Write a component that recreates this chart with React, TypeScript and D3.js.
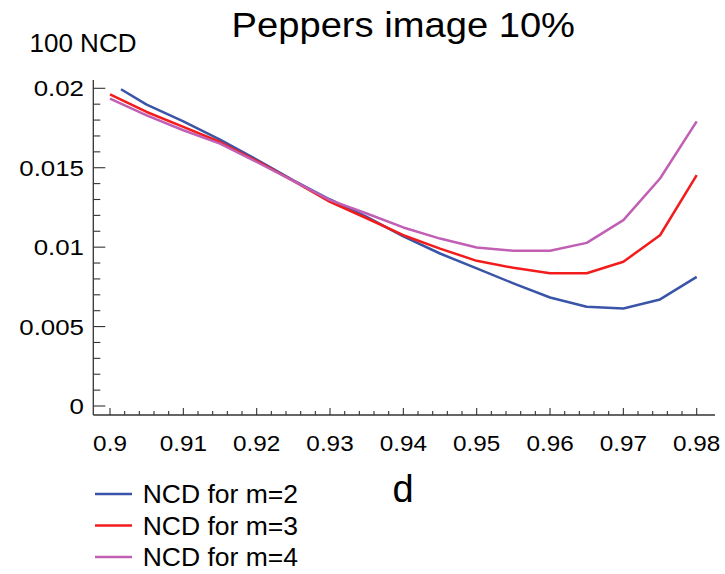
import React from "react";
import * as d3 from "d3";

// Parameter d on the horizontal axis
const dGrid = [0.9, 0.905, 0.91, 0.915, 0.92, 0.925, 0.93, 0.935, 0.94, 0.945, 0.95, 0.955, 0.96, 0.965, 0.97, 0.975, 0.98];
const dGridM2 = [0.9015, 0.905, 0.91, 0.915, 0.92, 0.925, 0.93, 0.935, 0.94, 0.945, 0.95, 0.955, 0.96, 0.965, 0.97, 0.975, 0.98];

// 100 NCD values per m
const ncdM2 = [0.01994, 0.01897, 0.01792, 0.01677, 0.01551, 0.01421, 0.0130, 0.01191, 0.01068, 0.0096, 0.00866, 0.00772, 0.00683, 0.00625, 0.00614, 0.00671, 0.00813];
const ncdM3 = [0.01962, 0.01851, 0.01757, 0.01662, 0.01543, 0.01417, 0.01285, 0.01182, 0.01075, 0.00991, 0.00914, 0.0087, 0.00836, 0.00836, 0.00908, 0.01075, 0.01453];
const ncdM4 = [0.01935, 0.0183, 0.01736, 0.01652, 0.01536, 0.01417, 0.01296, 0.01212, 0.01124, 0.01054, 0.00998, 0.00977, 0.00977, 0.01027, 0.0117, 0.01432, 0.01792];

const xTickLabels = ["0.9", "0.91", "0.92", "0.93", "0.94", "0.95", "0.96", "0.97", "0.98"];
const yTickLabels = ["0", "0.005", "0.01", "0.015", "0.02"];
const legendLabels = ["NCD for m=2", "NCD for m=3", "NCD for m=4"];
const seriesColors = ["#3a55a8", "#f21c1c", "#c05fb4"];

const FONT = "Arial, 'Liberation Sans', sans-serif";

function SText(props: {
  x: number; y: number; sx?: number; size: number; anchor?: string; children: React.ReactNode;
}) {
  const { x, y, sx = 1, size, anchor = "start", children } = props;
  return (
    <text
      transform={`translate(${x},${y}) scale(${sx},1)`}
      fontSize={size}
      fontFamily={FONT}
      textAnchor={anchor as any}
      fill="#000"
    >
      {children}
    </text>
  );
}

export default function App() {
  const x = d3.scaleLinear().domain([0.9, 0.98]).range([110, 696.7]);
  const y = d3.scaleLinear().domain([0, 0.02]).range([406, 88.3]);

  const axisX = 93.3;
  const axisY = 415;
  const axisColor = "#333";

  const line = d3
    .line<[number, number]>()
    .x((p) => x(p[0]))
    .y((p) => y(p[1]));

  const series = [
    { xs: dGridM2, ys: ncdM2 },
    { xs: dGrid, ys: ncdM3 },
    { xs: dGrid, ys: ncdM4 },
  ];

  const xMinor = d3.range(0, 41).map((i) => ({ v: 0.9 + i * 0.002, major: i % 5 === 0 }));
  const yMinor = d3.range(0, 21).map((i) => ({ v: i * 0.001, major: i % 5 === 0 }));

  return (
    <svg
      width={725}
      height={574}
      viewBox="0 0 725 574"
      style={{ position: "absolute", left: 0, top: 0, background: "#fff" }}
    >
      <rect width={725} height={574} fill="#fff" />

      {/* title and axis captions */}
      <SText x={403.3} y={36.7} size={35} sx={1.09} anchor="middle">Peppers image 10%</SText>
      <SText x={29.5} y={52} size={26}>100 NCD</SText>
      <SText x={403} y={502} size={38} anchor="middle">d</SText>

      {/* axes */}
      <line x1={axisX} x2={axisX} y1={80} y2={axisY} stroke={axisColor} strokeWidth={1.3} />
      <line x1={axisX} x2={715} y1={axisY} y2={axisY} stroke={axisColor} strokeWidth={1.3} />

      {xMinor.map((t, i) => (
        <line
          key={"xt" + i}
          x1={x(t.v)}
          x2={x(t.v)}
          y1={axisY}
          y2={axisY - (t.major ? 7 : 4)}
          stroke={axisColor}
          strokeWidth={1.1}
        />
      ))}
      {yMinor.map((t, i) => (
        <line
          key={"yt" + i}
          x1={axisX}
          x2={axisX + (t.major ? 12 : 7)}
          y1={y(t.v)}
          y2={y(t.v)}
          stroke={axisColor}
          strokeWidth={1.1}
        />
      ))}

      {xTickLabels.map((lab, i) => (
        <SText key={"xl" + i} x={x(0.9 + i * 0.01)} y={450.7} size={21.5} sx={1.13} anchor="middle">
          {lab}
        </SText>
      ))}
      {yTickLabels.map((lab, i) => (
        <SText key={"yl" + i} x={84} y={y(i * 0.005) + 8} size={22.5} sx={1.15} anchor="end">
          {lab}
        </SText>
      ))}

      {/* curves */}
      {series.map((s, k) => (
        <path
          key={"s" + k}
          d={line(s.xs.map((v, i) => [v, s.ys[i]] as [number, number])) || ""}
          fill="none"
          stroke={seriesColors[k]}
          strokeWidth={2.5}
          strokeLinejoin="round"
        />
      ))}

      {/* legend */}
      {legendLabels.map((lab, i) => {
        const ly = 494 + i * 31.5;
        return (
          <g key={"lg" + i}>
            <line x1={95} x2={132} y1={ly} y2={ly} stroke={seriesColors[i]} strokeWidth={2.5} />
            <SText x={142.7} y={ly + 9} size={25} sx={1.06}>{lab}</SText>
          </g>
        );
      })}
    </svg>
  );
}
